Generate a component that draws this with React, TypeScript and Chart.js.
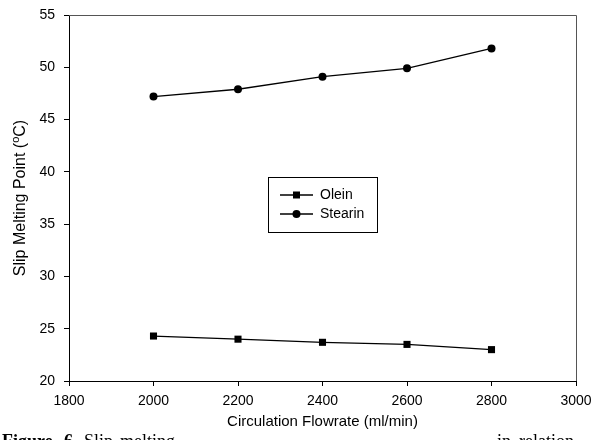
import React, { useEffect, useRef } from "react";
import { Chart, registerables } from "chart.js";

Chart.register(...registerables);

const flowrates = [2000, 2200, 2400, 2600, 2800];
const oleinValues = [24.3, 24.0, 23.7, 23.5, 23.0];
const stearinValues = [47.2, 47.9, 49.1, 49.9, 51.8];
const seriesLabels = ["Olein", "Stearin"];
const xAxisTitle = "Circulation Flowrate (ml/min)";
const yAxisTitleMain = "Slip Melting Point (";
const yAxisTitleSup = "o";
const yAxisTitleEnd = "C)";
const captionWords: [string, number, boolean][] = [
  ["Figure", 2, true],
  ["6.", 64, true],
  ["Slip", 84, false],
  ["melting", 120, false],
  ["point", 196, false],
  ["of", 245, false],
  ["olein", 270, false],
  ["and", 320, false],
  ["stearin", 360, false],
  ["in", 497, false],
  ["relation", 519, false],
];

const SANS = "'Liberation Sans', Arial, sans-serif";
const SERIF = "'Liberation Serif', 'Times New Roman', serif";

const decorPlugin = {
  id: "decor",
  afterDraw(chart: any) {
    const ctx = chart.ctx as CanvasRenderingContext2D;
    const a = chart.chartArea;
    ctx.save();
    // top/right frame
    ctx.strokeStyle = "#555";
    ctx.lineWidth = 1;
    ctx.beginPath();
    ctx.moveTo(a.left, a.top + 0.5);
    ctx.lineTo(a.right + 0.5, a.top + 0.5);
    ctx.lineTo(a.right + 0.5, a.bottom);
    ctx.stroke();

    // legend
    const lx = 268, ly = 177, lw = 109, lh = 55;
    ctx.strokeStyle = "#000";
    ctx.lineWidth = 1;
    ctx.strokeRect(lx + 0.5, ly + 0.5, lw, lh);
    const rows = [195, 214];
    rows.forEach((ry, i) => {
      ctx.strokeStyle = "#000";
      ctx.lineWidth = 1.3;
      ctx.beginPath();
      ctx.moveTo(280, ry);
      ctx.lineTo(313, ry);
      ctx.stroke();
      ctx.fillStyle = "#000";
      if (i === 0) {
        ctx.fillRect(293, ry - 3.5, 7, 7);
      } else {
        ctx.beginPath();
        ctx.arc(296.5, ry, 4, 0, Math.PI * 2);
        ctx.fill();
      }
      ctx.font = `14px ${SANS}`;
      ctx.textBaseline = "middle";
      ctx.textAlign = "left";
      ctx.fillText(chart.data.datasets[i].label, 320, ry);
    });

    // caption (partly hidden)
    ctx.fillStyle = "#000";
    ctx.textBaseline = "alphabetic";
    captionWords.forEach(([w, x, bold]) => {
      ctx.font = `${bold ? "bold " : ""}18px ${SERIF}`;
      ctx.fillText(w, x, 447);
    });

    // x title with white backing
    ctx.fillStyle = "#fff";
    ctx.fillRect(186, 410, 306, 30);
    ctx.fillStyle = "#000";
    ctx.font = `15px ${SANS}`;
    ctx.textAlign = "center";
    ctx.fillText(xAxisTitle, (a.left + a.right) / 2, 426);

    // y title rotated with superscript
    const cy = (a.top + a.bottom) / 2;
    ctx.translate(25, cy);
    ctx.rotate(-Math.PI / 2);
    ctx.textAlign = "left";
    ctx.font = `16px ${SANS}`;
    const w1 = ctx.measureText(yAxisTitleMain).width;
    const w3 = ctx.measureText(yAxisTitleEnd).width;
    ctx.font = `11px ${SANS}`;
    const w2 = ctx.measureText(yAxisTitleSup).width;
    const total = w1 + w2 + w3;
    let x0 = -total / 2;
    ctx.font = `16px ${SANS}`;
    ctx.fillText(yAxisTitleMain, x0, 0);
    x0 += w1;
    ctx.font = `11px ${SANS}`;
    ctx.fillText(yAxisTitleSup, x0, -6);
    x0 += w2;
    ctx.font = `16px ${SANS}`;
    ctx.fillText(yAxisTitleEnd, x0, 0);
    ctx.restore();
  },
};

export default function App() {
  const ref = useRef<HTMLCanvasElement>(null);
  useEffect(() => {
    document.body.style.margin = "0";
    const chart = new Chart(ref.current!, {
      type: "line",
      data: {
        datasets: [
          {
            label: seriesLabels[0],
            data: flowrates.map((x, i) => ({ x, y: oleinValues[i] })),
            borderColor: "#000",
            backgroundColor: "#000",
            borderWidth: 1.3,
            pointStyle: "rect",
            pointRadius: 5,
            pointBorderWidth: 0,
          },
          {
            label: seriesLabels[1],
            data: flowrates.map((x, i) => ({ x, y: stearinValues[i] })),
            borderColor: "#000",
            backgroundColor: "#000",
            borderWidth: 1.3,
            pointStyle: "circle",
            pointRadius: 4,
            pointBorderWidth: 0,
          },
        ],
      },
      options: {
        responsive: false,
        animation: false,
        devicePixelRatio: 1,
        layout: { padding: { left: 0, top: 15, right: 20, bottom: 0 } },
        plugins: { legend: { display: false }, tooltip: { enabled: false } },
        scales: {
          x: {
            type: "linear",
            min: 1800,
            max: 3000,
            afterFit: (s: any) => {
              s.height = 59;
              s.paddingLeft = 0;
              s.paddingRight = 0;
            },
            ticks: {
              stepSize: 200,
              color: "#000",
              font: { family: SANS, size: 14 },
              padding: 7,
              maxRotation: 0,
              callback: (v: any) => String(v),
            },
            grid: { drawOnChartArea: false, drawTicks: true, tickLength: 5, color: "#000" },
            border: { display: true, color: "#000", width: 1 },
          },
          y: {
            type: "linear",
            min: 20,
            max: 55,
            afterFit: (s: any) => {
              s.width = 69;
              s.paddingTop = 0;
              s.paddingBottom = 0;
            },
            ticks: {
              stepSize: 5,
              color: "#000",
              font: { family: SANS, size: 14 },
              padding: 9,
              callback: (v: any) => String(v),
            },
            grid: { drawOnChartArea: false, drawTicks: true, tickLength: 5, color: "#000" },
            border: { display: true, color: "#000", width: 1 },
          },
        },
      },
      plugins: [decorPlugin],
    });
    return () => chart.destroy();
  }, []);
  return <canvas ref={ref} width={596} height={440} style={{ display: "block" }} />;
}
